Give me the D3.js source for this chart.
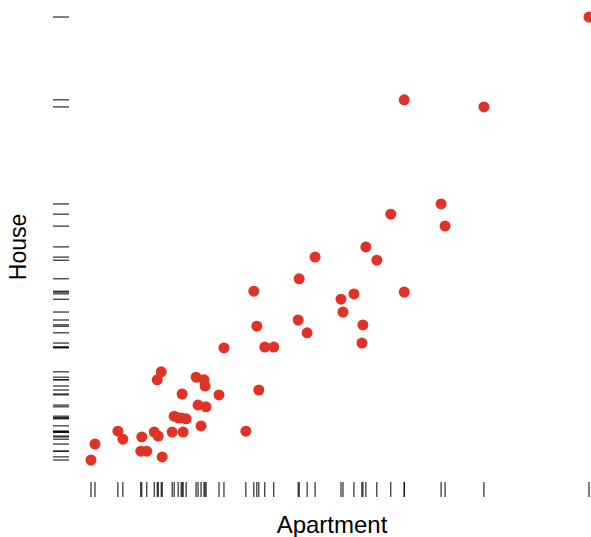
<!DOCTYPE html>
<html>
<head>
<meta charset="utf-8">
<script src="https://cdn.jsdelivr.net/npm/d3@7"></script>
<style>
  body { margin: 0; background: #fff; }
  svg { display: block; }
</style>
</head>
<body>
<div id="chart"></div>
<script>
// values (arbitrary units, 0-100)
var apartment = [100, 62.9, 78.9, 70.3, 60.2, 71.1, 55.2, 45.0, 57.4, 41.8,
                 32.7, 62.9, 52.8, 50.2, 50.6, 41.6, 33.3, 54.6, 43.4, 54.4,
                 34.9, 36.7, 26.7, 14.1, 13.3, 21.1, 22.7, 22.9, 33.7, 25.7,
                 18.3, 21.5, 23.1, 16.7, 17.5, 18.1, 19.1, 22.1, 16.3, 18.5,
                 12.7, 13.5, 5.4, 6.4, 10.2, 31.1, 0.8, 10.0, 11.2, 14.3, 0];
var house = [100, 81.3, 79.7, 57.8, 55.5, 52.8, 48.1, 45.8, 45.1, 40.9,
             38.1, 37.9, 37.5, 36.3, 33.4, 31.6, 30.2, 30.5, 28.7, 26.4,
             25.5, 25.5, 25.3, 19.9, 18.1, 18.7, 18.1, 16.7, 15.8, 14.7,
             14.9, 12.4, 12.0, 9.9, 9.5, 9.5, 9.3, 7.7, 6.3, 6.3,
             6.3, 5.4, 6.5, 4.7, 5.2, 6.5, 3.6, 2.0, 2.0, 0.7, 0];

var xLabel = "Apartment";
var yLabel = "House";

var width = 591, height = 537;
var plot = {left: 91, right: 589, top: 17, bottom: 460};

var svg = d3.select("#chart")
    .append("svg")
    .attr("width", width)
    .attr("height", height);

var x = d3.scaleLinear()
    .domain([d3.min(apartment), d3.max(apartment)])
    .range([plot.left, plot.right]);

var y = d3.scaleLinear()
    .domain([d3.min(house), d3.max(house)])
    .range([plot.bottom, plot.top]);

var points = apartment.map(function(d, i) { return {a: d, h: house[i]}; });

// rug along the bottom
svg.append("g")
    .selectAll("line")
    .data(apartment)
    .enter()
    .append("line")
    .attr("x1", function(d) { return x(d); })
    .attr("x2", function(d) { return x(d); })
    .attr("y1", 482)
    .attr("y2", 497)
    .style("stroke", "#000")
    .style("stroke-width", 1);

// rug along the left side
svg.append("g")
    .selectAll("line")
    .data(house)
    .enter()
    .append("line")
    .attr("x1", 53)
    .attr("x2", 69)
    .attr("y1", function(d) { return y(d); })
    .attr("y2", function(d) { return y(d); })
    .style("stroke", "#000")
    .style("stroke-width", 1);

// points
svg.append("g")
    .selectAll("circle")
    .data(points)
    .enter()
    .append("circle")
    .attr("cx", function(d) { return x(d.a); })
    .attr("cy", function(d) { return y(d.h); })
    .attr("r", 5.5)
    .style("fill", "#e03225");

// axis titles
svg.append("text")
    .attr("x", 332)
    .attr("y", 533)
    .attr("text-anchor", "middle")
    .style("font-family", "'Liberation Sans', Arial, sans-serif")
    .style("font-size", "24px")
    .style("fill", "#000")
    .text(xLabel);

svg.append("text")
    .attr("transform", "translate(26,247) rotate(-90)")
    .attr("text-anchor", "middle")
    .style("font-family", "'Liberation Sans', Arial, sans-serif")
    .style("font-size", "23px")
    .style("fill", "#000")
    .text(yLabel);
</script>
</body>
</html>
